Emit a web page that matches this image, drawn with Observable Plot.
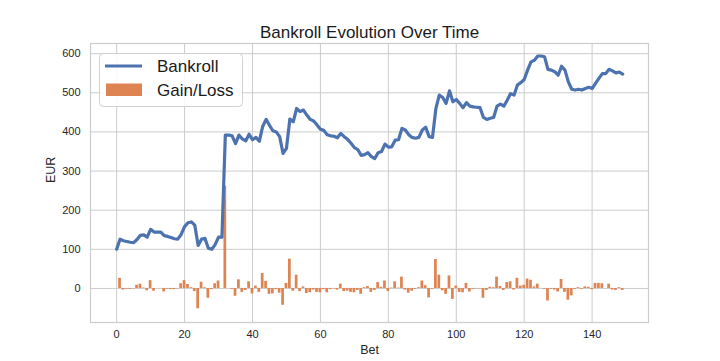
<!DOCTYPE html>
<html><head><meta charset="utf-8">
<script src="https://cdn.jsdelivr.net/npm/d3@7"></script>
<script src="https://cdn.jsdelivr.net/npm/@observablehq/plot@0.6"></script>
<style>
body{margin:0;background:#fff;}
#chart{width:720px;height:361px;}
</style></head><body><div id="chart"></div>
<script>
const titleText = "Bankroll Evolution Over Time";
const xLabel = "Bet";
const yLabel = "EUR";
const seriesNames = ["Bankroll", "Gain/Loss"];
const xTicks = [0, 20, 40, 60, 80, 100, 120, 140];
const yTicks = [0, 100, 200, 300, 400, 500, 600];

const bankroll = [
  100,126,122,120,118,117,125,136,137,131,
  151,144,144,144,135,133,130,127,126,138,
  158,168,170,162,110,126,128,103,100,112,
  131,131,392,392,390,370,392,382,377,394,
  380,386,376,414,432,417,403,400,388,345,
  358,433,426,460,452,456,443,432,428,418,
  407,404,393,390,389,385,396,388,381,371,
  360,355,340,342,347,337,332,347,350,369,
  361,362,379,380,409,405,393,386,384,386,
  405,412,388,386,460,494,488,473,505,477,
  483,473,462,475,466,464,463,462,437,432,
  435,437,466,471,466,481,498,494,520,526,
  534,558,579,583,594,594,592,560,558,554,
  545,568,558,528,509,507,509,507,511,514,
  511,524,537,549,549,560,556,551,553,548
];
const gainLoss = [
  0,26,-4,-2,-2,-1,8,11,1,-6,
  20,-7,0,0,-9,-2,-3,-3,-1,12,
  20,10,2,-8,-52,16,2,-25,-3,12,
  19,0,261,0,-2,-20,22,-10,-5,17,
  -14,6,-10,38,18,-15,-14,-3,-12,-43,
  13,75,-7,34,-8,4,-13,-11,-4,-10,
  -11,-3,-11,-3,-1,-4,11,-8,-7,-10,
  -11,-5,-15,2,5,-10,-5,15,3,19,
  -8,1,17,1,29,-4,-12,-7,-2,2,
  19,7,-24,-2,74,34,-6,-15,32,-28,
  6,-10,-11,13,-9,-2,-1,-1,-25,-5,
  3,2,29,5,-5,15,17,-4,26,6,
  8,24,21,4,11,0,-2,-32,-2,-4,
  -9,23,-10,-30,-19,-2,2,-2,4,3,
  -3,13,13,12,0,11,-4,-5,2,-5
];

const colors = {bankroll: "#4c72b0", gain: "#dd8452"};
const rows = bankroll.map((v, i) => ({bet: i, bankroll: v, gain: gainLoss[i]}));
const font = "'Liberation Sans', Arial, sans-serif";

const chart = Plot.plot({
  width: 720, height: 361,
  marginLeft: 90, marginRight: 72, marginTop: 43, marginBottom: 39,
  x: {domain: [-7.7, 156.6]},
  y: {domain: [-87, 626]},
  style: {fontFamily: font, fontSize: "11px", color: "#262626", background: "#fff"},
  marks: [
    Plot.gridX(xTicks, {stroke: "#cccccc", strokeOpacity: 1}),
    Plot.gridY(yTicks, {stroke: "#cccccc", strokeOpacity: 1}),
    Plot.rectY(rows, {x1: d => d.bet - 0.4, x2: d => d.bet + 0.4, y1: 0, y2: "gain", fill: colors.gain, inset: 0}),
    Plot.lineY(rows, {x: "bet", y: "bankroll", stroke: colors.bankroll, strokeWidth: 3.2, strokeLinejoin: "round", strokeLinecap: "round"}),
    Plot.frame({stroke: "#cccccc", strokeWidth: 1.2}),
    Plot.axisX(xTicks, {tickSize: 0, tickPadding: 8, label: null}),
    Plot.axisY(yTicks, {tickSize: 0, tickPadding: 10, label: null}),
    Plot.text([xLabel], {frameAnchor: "bottom", dy: 23, lineAnchor: "top", fontSize: 12.5, fill: "#262626"}),
    Plot.text([yLabel], {frameAnchor: "left", dx: -40, rotate: -90, fontSize: 12.5, fill: "#262626"}),
    Plot.text([titleText], {frameAnchor: "top", dy: -5.5, lineAnchor: "bottom", fontSize: 17, fill: "#1a1a1a"})
  ]
});
document.getElementById("chart").appendChild(chart);

// legend
const svg = d3.select(chart);
const lg = svg.append("g").attr("font-family", font).attr("text-anchor", "start");
lg.append("rect").attr("x", 99.5).attr("y", 53.5).attr("width", 143).attr("height", 53).attr("rx", 4)
  .attr("fill", "#fff").attr("fill-opacity", 0.85).attr("stroke", "#d0d0d0");
lg.append("line").attr("x1", 105).attr("x2", 142).attr("y1", 66).attr("y2", 66)
  .attr("stroke", colors.bankroll).attr("stroke-width", 3.2);
lg.append("rect").attr("x", 106).attr("y", 83.5).attr("width", 36).attr("height", 12.5).attr("fill", colors.gain);
lg.append("text").attr("x", 157).attr("y", 72).attr("font-size", 17).attr("fill", "#1a1a1a").text(seriesNames[0]);
lg.append("text").attr("x", 157).attr("y", 96).attr("font-size", 17).attr("fill", "#1a1a1a").text(seriesNames[1]);
</script></body></html>
